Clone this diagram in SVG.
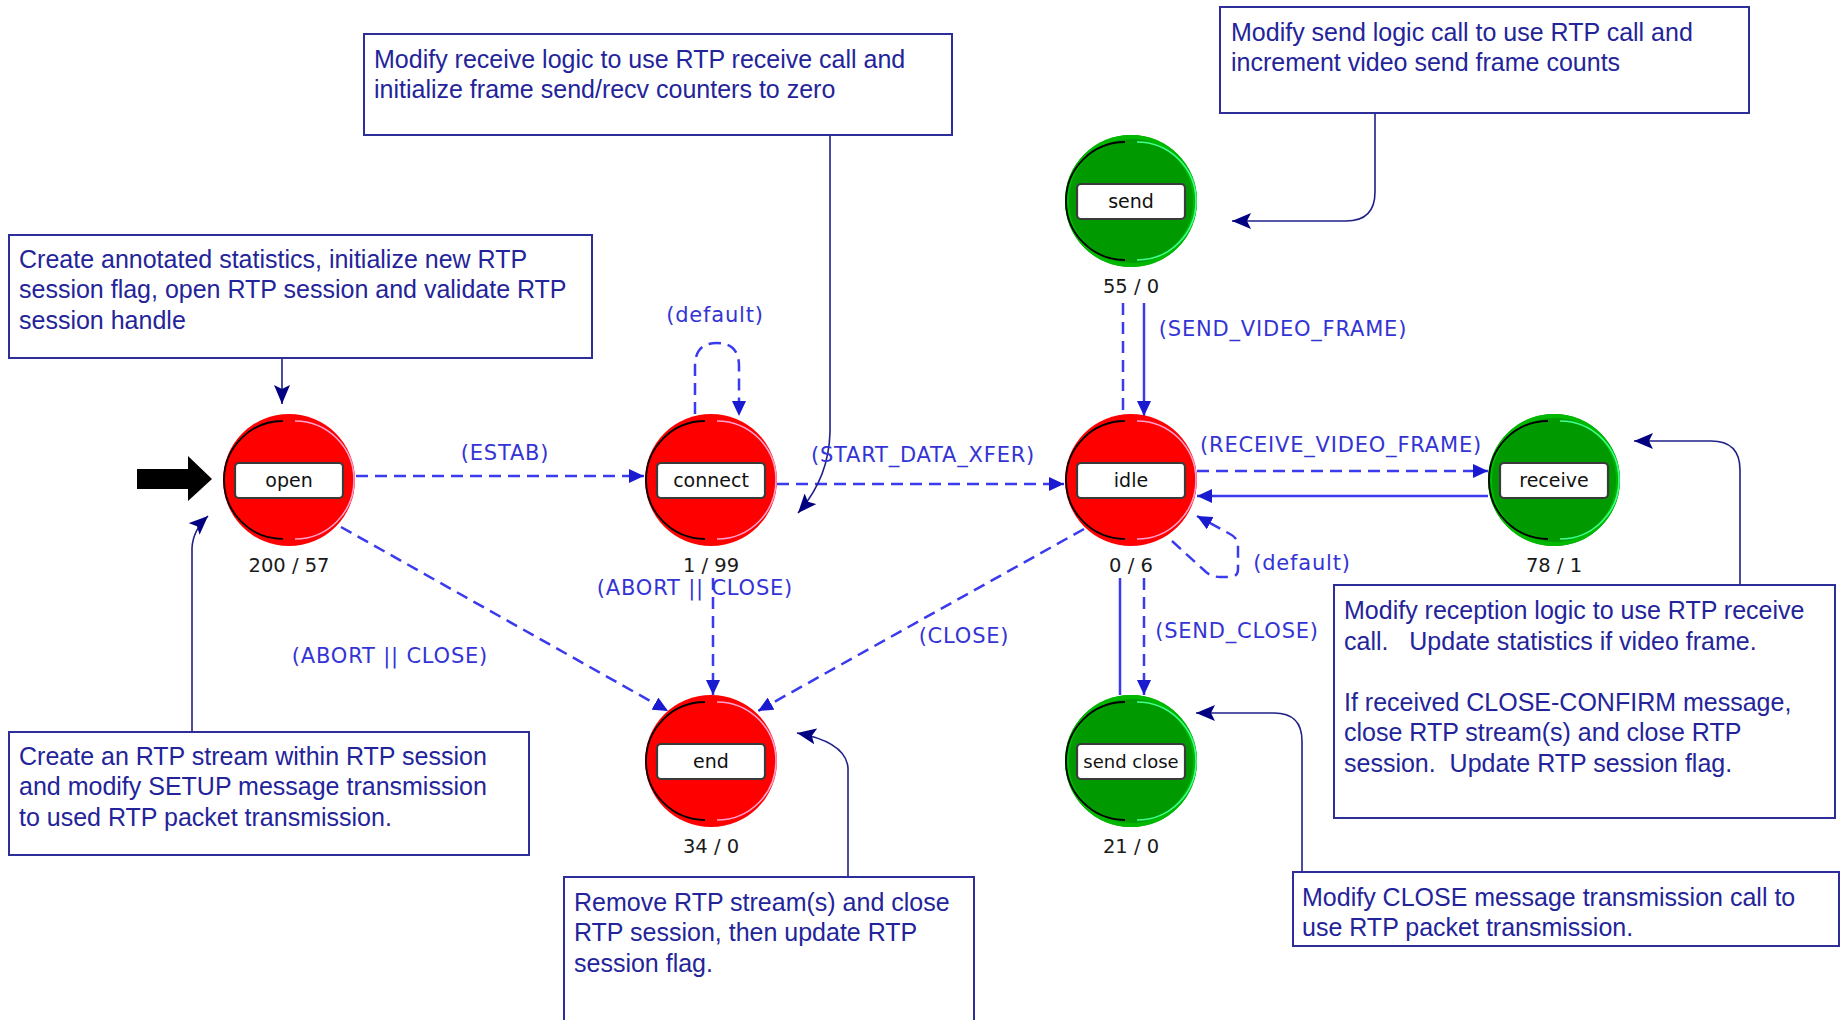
<svg xmlns="http://www.w3.org/2000/svg" width="1843" height="1020" viewBox="0 0 1843 1020">
  <style>
    .disc-red { fill: #ff0000; }
    .disc-green { fill: #009a00; }
    .ring-green { fill: none; stroke: #00b800; stroke-width: 4; }
    .rim-dark { fill: none; stroke: #000000; stroke-width: 1.8; }
    .rim-light-red { fill: none; stroke: #ffa0d0; stroke-width: 1.6; }
    .rim-light-green { fill: none; stroke: #40ff90; stroke-width: 1.6; }
    .tag { fill: #ffffff; stroke: #3a3a3a; stroke-width: 2.2; }
    .tag-text { font-family: "DejaVu Sans", sans-serif; font-size: 19px; fill: #111111; text-anchor: middle; }
    .count { font-family: "DejaVu Sans", sans-serif; font-size: 19.5px; fill: #1a1a1a; text-anchor: middle; }
    .note rect { fill: #ffffff; stroke: #2e2e9a; stroke-width: 2; }
    .note text { font-family: "Liberation Sans", Arial, sans-serif; font-size: 25px; fill: #24249a; }
    .trans { fill: none; stroke: #3a3aee; stroke-width: 2.5; }
    .dashed { stroke-dasharray: 12 7; }
    .trans-label { font-family: "DejaVu Sans", sans-serif; font-size: 21px; letter-spacing: 0.8px; fill: #3434d4; text-anchor: middle; }
    .link { fill: none; stroke: #202088; stroke-width: 1.6; }
  </style>
  <defs>
    <marker id="arrow-trans" markerUnits="userSpaceOnUse" markerWidth="16" markerHeight="14" refX="15" refY="7" orient="auto">
      <path d="M0,0 L15,7 L0,14 z" fill="#1a1ad0"/>
    </marker>
    <marker id="arrow-link" markerUnits="userSpaceOnUse" markerWidth="20" markerHeight="16" refX="19" refY="8" orient="auto">
      <path d="M0,0 L19,8 L0,16 L4,8 z" fill="#000080"/>
    </marker>
  </defs>

  <rect x="0" y="0" width="1843" height="1020" fill="#ffffff"/>

  <!-- transitions and note links -->
  <g id="connectors">
    <!-- state transitions -->
    <path class="trans dashed" d="M356,476 H644" marker-end="url(#arrow-trans)"/>
    <path class="trans dashed" d="M777,484 H1064" marker-end="url(#arrow-trans)"/>
    <path class="trans dashed" d="M695,414 V366 Q695,343 717,343 Q739,343 739,366 V416" marker-end="url(#arrow-trans)"/>
    <path class="trans dashed" d="M341,527 L668,711" marker-end="url(#arrow-trans)"/>
    <path class="trans dashed" d="M713,578 V695" marker-end="url(#arrow-trans)"/>
    <path class="trans dashed" d="M1084,529 L758,711" marker-end="url(#arrow-trans)"/>
    <path class="trans dashed" d="M1123,303 V414"/>
    <path class="trans" d="M1144,303 V416" marker-end="url(#arrow-trans)"/>
    <path class="trans dashed" d="M1197,471 H1488" marker-end="url(#arrow-trans)"/>
    <path class="trans" d="M1488,496 H1197" marker-end="url(#arrow-trans)"/>
    <path class="trans dashed" d="M1172,541 L1206,572 Q1212,577 1220,577 H1230 Q1238,577 1238,569 V546 Q1238,538 1230,534 L1197,516" marker-end="url(#arrow-trans)"/>
    <path class="trans" d="M1120,578 V695"/>
    <path class="trans dashed" d="M1144,578 V695" marker-end="url(#arrow-trans)"/>

    <!-- note links -->
    <path class="link" d="M830,135 V432 Q829,478 798,513" marker-end="url(#arrow-link)"/>
    <path class="link" d="M1375,113 V192 Q1375,221 1346,221 H1232" marker-end="url(#arrow-link)"/>
    <path class="link" d="M282,358 V404" marker-end="url(#arrow-link)"/>
    <path class="link" d="M192,732 V548 Q193,530 208,516" marker-end="url(#arrow-link)"/>
    <path class="link" d="M848,877 V768 Q846,742 797,733" marker-end="url(#arrow-link)"/>
    <path class="link" d="M1302,872 V741 Q1302,713 1274,713 H1196" marker-end="url(#arrow-link)"/>
    <path class="link" d="M1740,585 V470 Q1740,441 1711,441 H1634" marker-end="url(#arrow-link)"/>

    <!-- initial-state arrow -->
    <path d="M137,469 H188 V456 L212,479 L188,501 V489 H137 z" fill="#000000"/>
  </g>

  <!-- transition labels -->
  <g id="transition-labels">
    <text class="trans-label" x="505" y="460">(ESTAB)</text>
    <text class="trans-label" x="923" y="462">(START_DATA_XFER)</text>
    <text class="trans-label" x="715" y="322">(default)</text>
    <text class="trans-label" x="695" y="595">(ABORT || CLOSE)</text>
    <text class="trans-label" x="390" y="663">(ABORT || CLOSE)</text>
    <text class="trans-label" x="964" y="643">(CLOSE)</text>
    <text class="trans-label" x="1283" y="336">(SEND_VIDEO_FRAME)</text>
    <text class="trans-label" x="1341" y="452">(RECEIVE_VIDEO_FRAME)</text>
    <text class="trans-label" x="1302" y="570">(default)</text>
    <text class="trans-label" x="1237" y="638">(SEND_CLOSE)</text>
  </g>

  <!-- states -->
  <g id="state-open" transform="translate(289,480)">
    <circle r="66" class="disc-red"/>
    <path class="rim-dark" d="M-6,-59 A59,59 0 0 0 -6,59"/>
    <path class="rim-light-red" d="M6,-59 A59,59 0 0 1 6,59"/>
    <rect class="tag" x="-54" y="-17" width="108" height="35" rx="4"/>
    <text class="tag-text" y="7">open</text>
    <text class="count" y="92">200 / 57</text>
  </g>
  <g id="state-connect" transform="translate(711,480)">
    <circle r="66" class="disc-red"/>
    <path class="rim-dark" d="M-6,-59 A59,59 0 0 0 -6,59"/>
    <path class="rim-light-red" d="M6,-59 A59,59 0 0 1 6,59"/>
    <rect class="tag" x="-54" y="-17" width="108" height="35" rx="4"/>
    <text class="tag-text" y="7">connect</text>
    <text class="count" y="92">1 / 99</text>
  </g>
  <g id="state-idle" transform="translate(1131,480)">
    <circle r="66" class="disc-red"/>
    <path class="rim-dark" d="M-6,-59 A59,59 0 0 0 -6,59"/>
    <path class="rim-light-red" d="M6,-59 A59,59 0 0 1 6,59"/>
    <rect class="tag" x="-54" y="-17" width="108" height="35" rx="4"/>
    <text class="tag-text" y="7">idle</text>
    <text class="count" y="92">0 / 6</text>
  </g>
  <g id="state-send" transform="translate(1131,201)">
    <circle r="66" class="disc-green"/>
    <circle r="64" class="ring-green"/>
    <path class="rim-dark" d="M-6,-59 A59,59 0 0 0 -6,59"/>
    <path class="rim-light-green" d="M6,-59 A59,59 0 0 1 6,59"/>
    <rect class="tag" x="-54" y="-17" width="108" height="35" rx="4"/>
    <text class="tag-text" y="7">send</text>
    <text class="count" y="92">55 / 0</text>
  </g>
  <g id="state-receive" transform="translate(1554,480)">
    <circle r="66" class="disc-green"/>
    <circle r="64" class="ring-green"/>
    <path class="rim-dark" d="M-6,-59 A59,59 0 0 0 -6,59"/>
    <path class="rim-light-green" d="M6,-59 A59,59 0 0 1 6,59"/>
    <rect class="tag" x="-54" y="-17" width="108" height="35" rx="4"/>
    <text class="tag-text" y="7">receive</text>
    <text class="count" y="92">78 / 1</text>
  </g>
  <g id="state-end" transform="translate(711,761)">
    <circle r="66" class="disc-red"/>
    <path class="rim-dark" d="M-6,-59 A59,59 0 0 0 -6,59"/>
    <path class="rim-light-red" d="M6,-59 A59,59 0 0 1 6,59"/>
    <rect class="tag" x="-54" y="-17" width="108" height="35" rx="4"/>
    <text class="tag-text" y="7">end</text>
    <text class="count" y="92">34 / 0</text>
  </g>
  <g id="state-send-close" transform="translate(1131,761)">
    <circle r="66" class="disc-green"/>
    <circle r="64" class="ring-green"/>
    <path class="rim-dark" d="M-6,-59 A59,59 0 0 0 -6,59"/>
    <path class="rim-light-green" d="M6,-59 A59,59 0 0 1 6,59"/>
    <rect class="tag" x="-54" y="-17" width="108" height="35" rx="4"/>
    <text class="tag-text" y="7" style="font-size:18px">send close</text>
    <text class="count" y="92">21 / 0</text>
  </g>

  <!-- notes -->
  <g id="note-receive-logic" class="note">
    <rect x="364" y="34" width="588" height="101"/>
    <text x="374" y="68">Modify receive logic to use RTP receive call and</text>
    <text x="374" y="98">initialize frame send/recv counters to zero</text>
  </g>
  <g id="note-send-logic" class="note">
    <rect x="1220" y="7" width="529" height="106"/>
    <text x="1231" y="41">Modify send logic call to use RTP call and</text>
    <text x="1231" y="71">increment video send frame counts</text>
  </g>
  <g id="note-open" class="note">
    <rect x="9" y="235" width="583" height="123"/>
    <text x="19" y="268">Create annotated statistics, initialize new RTP</text>
    <text x="19" y="298">session flag, open RTP session and validate RTP</text>
    <text x="19" y="329">session handle</text>
  </g>
  <g id="note-stream" class="note">
    <rect x="9" y="732" width="520" height="123"/>
    <text x="19" y="765">Create an RTP stream within RTP session</text>
    <text x="19" y="795">and modify SETUP message transmission</text>
    <text x="19" y="826">to used RTP packet transmission.</text>
  </g>
  <g id="note-end" class="note">
    <rect x="564" y="877" width="410" height="160"/>
    <text x="574" y="911">Remove RTP stream(s) and close</text>
    <text x="574" y="941">RTP session, then update RTP</text>
    <text x="574" y="972">session flag.</text>
  </g>
  <g id="note-close" class="note">
    <rect x="1293" y="872" width="546" height="74"/>
    <text x="1302" y="906">Modify CLOSE message transmission call to</text>
    <text x="1302" y="936">use RTP packet transmission.</text>
  </g>
  <g id="note-reception" class="note">
    <rect x="1334" y="585" width="501" height="233"/>
    <text x="1344" y="619">Modify reception logic to use RTP receive</text>
    <text x="1344" y="650" xml:space="preserve">call.   Update statistics if video frame.</text>
    <text x="1344" y="711">If received CLOSE-CONFIRM message,</text>
    <text x="1344" y="741">close RTP stream(s) and close RTP</text>
    <text x="1344" y="772" xml:space="preserve">session.  Update RTP session flag.</text>
  </g>
</svg>
